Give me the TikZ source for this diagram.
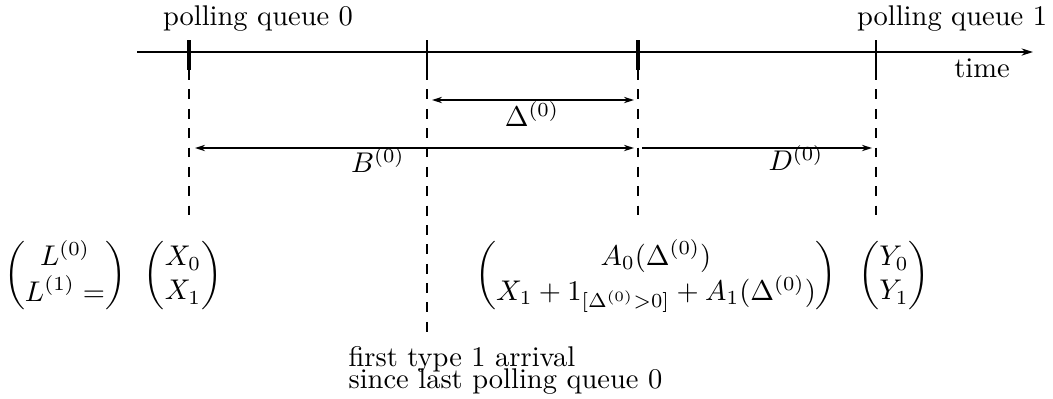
\documentclass[tikz,border=0pt]{standalone}
\usepackage{amsmath}
\usepackage{tikz}
\usetikzlibrary{arrows.meta}

\begin{document}
\begin{tikzpicture}[x=0.351pt, y=-0.351pt,
    every node/.style={inner sep=0pt},
    guide/.style={line width=0.4pt, dash pattern=on 3.5pt off 3.3pt},
    spantip/.tip={Stealth[length=3.5pt, width=2.2pt]},
    span/.style={line width=0.8pt}]
    \useasboundingbox (0,0) rectangle (1053,398);

    % 1. EIX DEL TEMPS
    \coordinate (axL) at (137,52);
    \coordinate (axR) at (1033,52);
    \draw[line width=1pt, -{Stealth[length=4pt, width=2.5pt]}] (axL) -- (axR);
    \node[anchor=base] (time) at (982,77) {time};

    % Marques i linies de referencia
    \foreach \n/\x/\w/\e in {p0/189/1.4pt/215, a1/427/0.6pt/340, e0/638/1.4pt/215, p1/876/0.8pt/215} {
        \coordinate (\n) at (\x,52);
        \draw[line width=\w] (\x,40) -- (\x,70);
        \draw[guide] (\x,70) -- (\x,\e);
    }
    \node[anchor=base] (lpq0) at (258,25) {polling queue 0};
    \node[anchor=base] (lpq1) at (952,25) {polling queue 1};

    % 2. INTERVALS
    \path (a1) ++(5,48) coordinate (dL)  (e0) ++(-4,48) coordinate (dR);
    \path (p0) ++(6,96) coordinate (bL)  (e0) ++(-4,96) coordinate (bR);
    \path (e0) ++(4,96) coordinate (eL)  (p1) ++(-4,96) coordinate (eR);
    \draw[span, spantip-spantip] (dL) -- (dR);
    \draw[span, spantip-spantip] (bL) -- (bR);
    \draw[span, -spantip] (eL) -- (eR);
    \node (ldelta) at (532,114) {$\Delta^{(0)}$};
    \node (lB) at (378,160) {$B^{(0)}$};
    \node (lD) at (796,158) {$D^{(0)}$};

    % 3. ESTATS
    \node (mL) at (65,276) {$\begin{pmatrix} L^{(0)}\\ L^{(1)} = \end{pmatrix}$};
    \node (mX) at (183,276) {$\begin{pmatrix} X_0\\ X_1 \end{pmatrix}$};
    \node (mA) at (656,276) {$\begin{pmatrix} A_0(\Delta^{(0)})\\ X_1+1_{[\Delta^{(0)}>0]}+A_1(\Delta^{(0)}) \end{pmatrix}$};
    \node (mY) at (894,276) {$\begin{pmatrix} Y_0\\ Y_1 \end{pmatrix}$};
    \node[anchor=north west, align=left] (arr) at (348,346) {first type 1 arrival\\[-4.4pt]since last polling queue 0};

\end{tikzpicture}
\end{document}
